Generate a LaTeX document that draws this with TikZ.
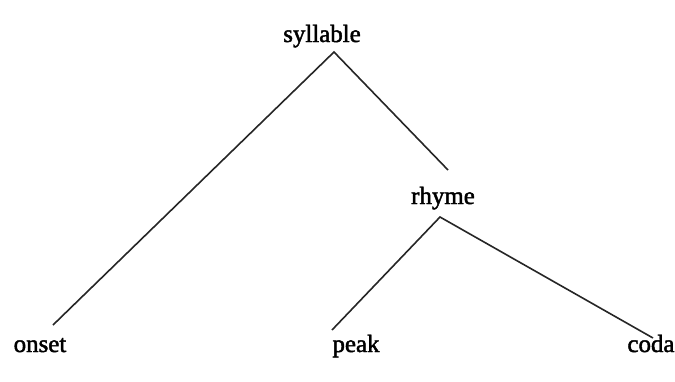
\documentclass[tikz,border=0pt]{standalone}
\usepackage{fontspec}
\setmainfont{Liberation Serif}
% a slightly heavier cut of the regular face for the labels
\newfontfamily\lblfont{Liberation Serif}[FakeBold=1.8]
\begin{document}
\begin{tikzpicture}[x=1bp,y=-1bp,
  lbl/.style={anchor=base,inner sep=0pt,text=black,font=\lblfont\fontsize{25}{30}\selectfont},
  branch/.style={draw=black!85,line width=1.6bp}]
\useasboundingbox[fill=white] (0,0) rectangle (675,381);
% labels, placed on their baselines
\node[lbl] (syl)   at (322,42)  {syllable};
\node[lbl] (rhyme) at (443,204) {rhyme};
\node[lbl] (onset) at (40,352)  {onset};
\node[lbl] (peak)  at (356,352) {peak};
\node[lbl] (coda)  at (651,352) {coda};
% branch points and branch ends
\coordinate (sylJ)   at (334,52);
\coordinate (rhymeT) at (448,170);
\coordinate (rhymeJ) at (440,217);
\coordinate (onsetT) at (53,325);
\coordinate (peakT)  at (332,330);
\coordinate (codaT)  at (653,338);
% branches
\draw[branch] (onsetT) -- (sylJ) -- (rhymeT);
\draw[branch] (peakT) -- (rhymeJ) -- (codaT);
\end{tikzpicture}
\end{document}
